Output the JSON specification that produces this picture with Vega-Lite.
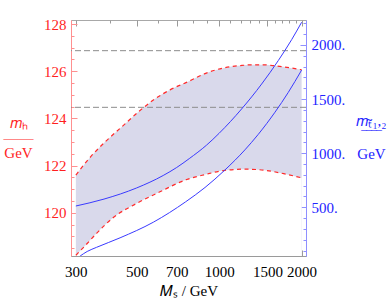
{
  "$schema": "https://vega.github.io/schema/vega-lite/v6.json",
  "width": 235,
  "height": 236,
  "autosize": "none",
  "padding": {"left": 71, "top": 20, "right": 85, "bottom": 45},
  "background": "white",
  "config": {
    "view": {"stroke": "#a8a8a8"},
    "axis": {"labelFont": "Liberation Serif", "titleFont": "Liberation Serif", "grid": false, "labelFontSize": 15, "titleFontSize": 15, "titleFontWeight": "normal", "labelOverlap": false}
  },
  "datasets": {
    "upper": [
      {"M": 300, "mh": 121.6}, {"M": 340, "mh": 122.38}, {"M": 384, "mh": 123.01}, {"M": 442, "mh": 123.65},
      {"M": 509, "mh": 124.29}, {"M": 577, "mh": 124.79}, {"M": 662, "mh": 125.21}, {"M": 772, "mh": 125.56},
      {"M": 888, "mh": 125.9}, {"M": 1050, "mh": 126.15}, {"M": 1200, "mh": 126.24}, {"M": 1314, "mh": 126.27},
      {"M": 1450, "mh": 126.27}, {"M": 1599, "mh": 126.23}, {"M": 1800, "mh": 126.15}, {"M": 2000, "mh": 126.06}
    ],
    "lower": [
      {"M": 300, "mh": 118.2}, {"M": 330, "mh": 118.7}, {"M": 357, "mh": 119.13}, {"M": 411, "mh": 119.8},
      {"M": 500, "mh": 120.4}, {"M": 608, "mh": 120.89}, {"M": 761, "mh": 121.41}, {"M": 888, "mh": 121.62},
      {"M": 1050, "mh": 121.8}, {"M": 1242, "mh": 121.85}, {"M": 1470, "mh": 121.8}, {"M": 1720, "mh": 121.66},
      {"M": 2000, "mh": 121.48}
    ],
    "refs": [{"mh": 126.87}, {"mh": 124.47}],
    "upperBlue": [
      {"M": 300, "mt": 512}, {"M": 380, "mt": 576}, {"M": 500, "mt": 679}, {"M": 625, "mt": 794},
      {"M": 700, "mt": 868}, {"M": 778, "mt": 950}, {"M": 900, "mt": 1075}, {"M": 1000, "mt": 1184},
      {"M": 1208, "mt": 1409}, {"M": 1429, "mt": 1639}, {"M": 1644, "mt": 1856}, {"M": 1840, "mt": 2050},
      {"M": 2000, "mt": 2210}
    ],
    "lowerBlue": [
      {"M": 311, "mt": 50}, {"M": 330, "mt": 92}, {"M": 357, "mt": 130}, {"M": 435, "mt": 218},
      {"M": 575, "mt": 362}, {"M": 754, "mt": 550}, {"M": 888, "mt": 683}, {"M": 1050, "mt": 845},
      {"M": 1242, "mt": 1031}, {"M": 1389, "mt": 1174}, {"M": 1599, "mt": 1379}, {"M": 1787, "mt": 1561},
      {"M": 2000, "mt": 1768}
    ]
  },
  "layer": [
    {
      "layer": [
        {
          "data": {"name": "upper"},
          "mark": {"type": "area", "color": "#d9d9eb", "interpolate": "monotone", "clip": true},
          "encoding": {
            "x": {
              "field": "M", "type": "quantitative",
              "scale": {"type": "log", "domain": [288, 2075], "nice": false},
              "axis": {
                "orient": "bottom",
                "values": [300, 500, 700, 1000, 1500, 2000],
                "format": "d",
                "tickSize": -6,
                "tickColor": "#9a9a9a", "domainColor": "#9a9a9a", "labelColor": "black",
                "labelPadding": 14, "labelFlush": false,
                "title": "𝑀ₛ / GeV", "titleColor": "black", "titlePadding": 4
              }
            },
            "y": {
              "field": "mh", "type": "quantitative",
              "scale": {"domain": [118.17, 128.17], "zero": false, "nice": false},
              "axis": {
                "orient": "left",
                "values": [120, 122, 124, 126, 128],
                "tickSize": -6,
                "tickColor": "#ff9090", "domainColor": "#ff9090", "labelColor": "#ff1f1f",
                "labelPadding": 11,
                "title": ["𝑚ₕ", "——", "GeV"], "titleColor": "#ff1f1f", "titleAngle": 0,
                "titleAlign": "center", "titleBaseline": "middle", "titleX": -53, "titleY": 102, "titleLineHeight": 15
              }
            }
          }
        },
        {
          "data": {"name": "lower"},
          "mark": {"type": "area", "color": "white", "interpolate": "monotone", "clip": true},
          "encoding": {
            "x": {
              "field": "M", "type": "quantitative",
              "axis": {
                "orient": "bottom",
                "values": [400, 600, 800, 900, 1100, 1200, 1300, 1400, 1600, 1700, 1800, 1900],
                "tickSize": -3, "labels": false, "domain": false, "title": null,
                "tickColor": "#9a9a9a"
              }
            },
            "y": {
              "field": "mh", "type": "quantitative",
              "axis": {
                "orient": "left",
                "values": [118.5, 119, 119.5, 120.5, 121, 121.5, 122.5, 123, 123.5, 124.5, 125, 125.5, 126.5, 127, 127.5],
                "tickSize": -3, "labels": false, "domain": false, "title": null,
                "tickColor": "#ff9090"
              }
            }
          }
        },
        {
          "data": {"name": "upper"},
          "mark": {"type": "line", "color": "#ff2a2a", "strokeWidth": 1.2, "strokeDash": [4, 3.5], "interpolate": "monotone", "clip": true},
          "encoding": {
            "x": {
              "field": "M", "type": "quantitative",
              "axis": {
                "orient": "top",
                "values": [300, 500, 700, 1000, 1500, 2000],
                "tickSize": -6, "labels": false, "domain": false, "title": null,
                "tickColor": "#9a9a9a"
              }
            },
            "y": {"field": "mh", "type": "quantitative", "axis": null}
          }
        },
        {
          "data": {"name": "lower"},
          "mark": {"type": "line", "color": "#ff2a2a", "strokeWidth": 1.2, "strokeDash": [4, 3.5], "interpolate": "monotone", "clip": true},
          "encoding": {
            "x": {
              "field": "M", "type": "quantitative",
              "axis": {
                "orient": "top",
                "values": [400, 600, 800, 900, 1100, 1200, 1300, 1400, 1600, 1700, 1800, 1900],
                "tickSize": -3, "labels": false, "domain": false, "title": null,
                "tickColor": "#9a9a9a"
              }
            },
            "y": {"field": "mh", "type": "quantitative", "axis": null}
          }
        },
        {
          "data": {"name": "refs"},
          "mark": {"type": "rule", "color": "#8c8c8c", "strokeWidth": 1, "strokeDash": [6, 3]},
          "encoding": {
            "y": {"field": "mh", "type": "quantitative", "axis": null}
          }
        }
      ],
      "resolve": {"axis": {"x": "independent", "y": "independent"}}
    },
    {
      "layer": [
        {
          "data": {"name": "upperBlue"},
          "mark": {"type": "line", "color": "#3a3aff", "strokeWidth": 1, "interpolate": "monotone", "clip": true},
          "encoding": {
            "x": {
              "field": "M", "type": "quantitative",
              "scale": {"type": "log", "domain": [288, 2075], "nice": false},
              "axis": null
            },
            "y": {
              "field": "mt", "type": "quantitative",
              "scale": {"domain": [50, 2231], "zero": false, "nice": false},
              "axis": {
                "orient": "right",
                "values": [500, 1000, 1500, 2000],
                "labelExpr": "datum.value + '.'",
                "tickSize": -6,
                "tickColor": "#8f8fff", "domainColor": "#8f8fff", "labelColor": "#2323ff",
                "labelPadding": 11,
                "title": ["𝑚ₜ̃₁,₂", "‾‾‾‾", "GeV"], "titleColor": "#2323ff", "titleAngle": 0,
                "titleAlign": "center", "titleBaseline": "middle", "titleX": 65, "titleY": 100, "titleLineHeight": 16.5
              }
            }
          }
        },
        {
          "data": {"name": "lowerBlue"},
          "mark": {"type": "line", "color": "#3a3aff", "strokeWidth": 1, "interpolate": "monotone", "clip": true},
          "encoding": {
            "x": {"field": "M", "type": "quantitative", "axis": null},
            "y": {
              "field": "mt", "type": "quantitative",
              "axis": {
                "orient": "right",
                "values": [100, 200, 300, 400, 600, 700, 800, 900, 1100, 1200, 1300, 1400, 1600, 1700, 1800, 1900, 2100, 2200],
                "tickSize": -3, "labels": false, "domain": false, "title": null,
                "tickColor": "#8f8fff"
              }
            }
          }
        }
      ],
      "resolve": {"axis": {"y": "independent"}}
    }
  ],
  "resolve": {"scale": {"y": "independent"}, "axis": {"x": "independent"}}
}
